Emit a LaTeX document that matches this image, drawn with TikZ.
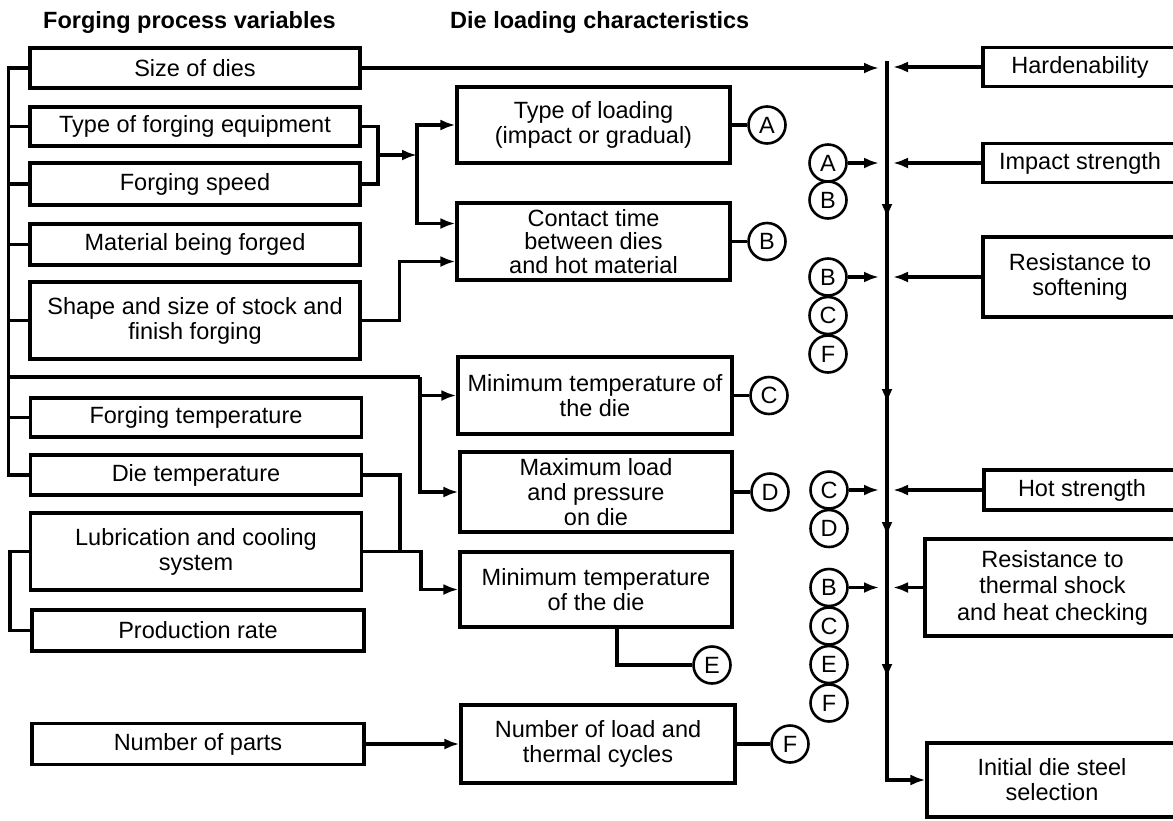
\documentclass[tikz,border=0pt]{standalone}
\usepackage{fontspec}
\setmainfont{Liberation Sans}
\usetikzlibrary{arrows.meta}

\begin{document}
\begin{tikzpicture}[x=1pt,y=-1pt,
  txt/.style={font=\fontsize{23.5}{25}\selectfont},
  box/.style={draw, line width=3.1pt, align=center, inner sep=0pt, txt},
  circ/.style={draw, circle, line width=2.6pt, minimum size=37pt, inner sep=0pt, fill=white, txt},
  ln/.style={line width=3.1pt},
  arr/.style={-{Latex[length=15pt,width=11pt]}},
  hd/.style={font=\fontsize{23.5}{25}\selectfont\bfseries, inner sep=0pt, anchor=base west}
]
\useasboundingbox (0,0) rectangle (1173,820);

% column headings
\node[hd] (h1) at (43,28) {Forging process variables};
\node[hd] (h2) at (450,28) {Die loading characteristics};

% forging process variables
\node[box, minimum width=330pt, minimum height=40pt] (L1) at (195,68) {Size of dies};
\node[box, minimum width=330pt, minimum height=39pt] (L2) at (195,126.5) {Type of forging equipment};
\node[box, minimum width=330pt, minimum height=42pt] (L3) at (195,184) {Forging speed};
\node[box, minimum width=330pt, minimum height=41pt] (L4) at (195,244.5) {Material being forged};
\node[box, minimum width=330pt, minimum height=77pt] (L5) at (195,320.5) {Shape and size of stock and\\finish forging};
\node[box, minimum width=331pt, minimum height=39pt] (L6) at (196,417.5) {Forging temperature};
\node[box, minimum width=331pt, minimum height=40pt] (L7) at (196,475) {Die temperature};
\node[box, minimum width=331pt, minimum height=77pt] (L8) at (196,551.5) {Lubrication and cooling\\system};
\node[box, minimum width=332pt, minimum height=41pt] (L9) at (198,630.5) {Production rate};
\node[box, minimum width=332pt, minimum height=41pt] (L10) at (198,744) {Number of parts};

% die loading characteristics
\node[box, minimum width=273pt, minimum height=76pt] (M1) at (593.5,125) {Type of loading\\(impact or gradual)};
\node[box, minimum width=273pt, minimum height=77pt, font=\fontsize{23.5}{23.5}\selectfont] (M2) at (593.5,241.5) {Contact time\\between dies\\and hot material};
\node[box, minimum width=274pt, minimum height=77pt] (M3) at (595,395.5) {Minimum temperature of\\the die};
\node[box, minimum width=272pt, minimum height=80pt] (M4) at (596,492) {Maximum load\\and pressure\\on die};
\node[box, minimum width=272pt, minimum height=75pt] (M5) at (596,589.5) {Minimum temperature\\of the die};
\node[box, minimum width=274pt, minimum height=78pt] (M6) at (598,744) {Number of load and\\thermal cycles};

% letter tags of the characteristics
\node[circ] (A1) at (767,125) {A};
\node[circ] (B1) at (767,241.5) {B};
\node[circ] (C1) at (769,395.5) {C};
\node[circ] (D1) at (770,492) {D};
\node[circ] (E1) at (712,665) {E};
\node[circ] (F1) at (790,744) {F};

% die steel properties
\node[box, minimum width=194pt, minimum height=39pt] (R1) at (1080,67) {Hardenability};
\node[box, minimum width=194pt, minimum height=39pt] (R2) at (1080,163) {Impact strength};
\node[box, minimum width=194pt, minimum height=80pt] (R3) at (1080,277) {Resistance to\\softening};
\node[box, minimum width=196pt, minimum height=40pt] (R4) at (1082,490) {Hot strength};
\node[box, minimum width=255pt, minimum height=97pt, font=\fontsize{23.5}{26.5}\selectfont] (R5) at (1052.5,587.5) {Resistance to\\thermal shock\\and heat checking};
\node[box, minimum width=250pt, minimum height=74pt] (R6) at (1052,780) {Initial die steel\\selection};

% tags feeding each property
\node[circ] (rA1) at (828,163) {A};
\node[circ] (rB1) at (828,200) {B};
\node[circ] (rB2) at (828,277) {B};
\node[circ] (rC2) at (828,315.5) {C};
\node[circ] (rF2) at (828,354) {F};
\node[circ] (rC3) at (829,490) {C};
\node[circ] (rD3) at (829,528.5) {D};
\node[circ] (rB4) at (829,587.5) {B};
\node[circ] (rC4) at (829,626) {C};
\node[circ] (rE4) at (829,664.5) {E};
\node[circ] (rF4) at (829,703) {F};

% main vertical collector, one continuous line with arrowheads laid on it
\coordinate (bus) at (887,0);
\coordinate (bt) at (887,61);
\draw[ln,arr] (bt) |- (R6.west);
\foreach \y in {219,404,537,679}
  \draw[ln,arr] (887,\y-16) -- (887,\y);

% inputs to the collector
\draw[ln,arr,shorten >=8pt] (L1.east) -- (L1.east -| bus);
\draw[ln,arr,shorten >=6pt] (R1.west) -- (R1.west -| bus);
\draw[ln,arr,shorten >=8pt] (rA1.east) -- (rA1.east -| bus);
\draw[ln,arr,shorten >=6pt] (R2.west) -- (R2.west -| bus);
\draw[ln,arr,shorten >=8pt] (rB2.east) -- (rB2.east -| bus);
\draw[ln,arr,shorten >=6pt] (R3.west) -- (R3.west -| bus);
\draw[ln,arr,shorten >=8pt] (rC3.east) -- (rC3.east -| bus);
\draw[ln,arr,shorten >=6pt] (R4.west) -- (R4.west -| bus);
\draw[ln,arr,shorten >=8pt] (rB4.east) -- (rB4.east -| bus);
\draw[ln,arr,shorten >=6pt] (R5.west) -- (R5.west -| bus);

% left-hand bracket joining the process variables
\draw[ln] (L1.west) -- ++(-20,0) coordinate (lb) |- (L7.west);
\foreach \n in {L2,L3,L4,L5,L6}
  \draw[ln] (\n.west) -- (\n.west -| lb);
\draw[ln] (L8.west) -- ++(-19,0) |- (L9.west);

% equipment and speed -> loading type and contact time
\coordinate (j1) at (378,155);
\coordinate (s1) at (417,155);
\draw[ln] (L2.east) -| (j1) |- (L3.east);
\draw[ln,arr] (j1) -- (s1);
\draw[ln,arr] (s1) |- (M1.west);
\draw[ln,arr] (s1) |- ([yshift=18pt]M2.west);
\draw[ln,arr] (L5.east) -- ++(38,0) |- ([yshift=-20pt]M2.west);

% branch from the bracket -> die temperature and maximum load
\coordinate (v2) at (420,377);
\draw[ln] (lb |- v2) -- (v2);
\draw[ln,arr] (v2) |- (M4.west);
\draw[ln,arr] (v2 |- M3.west) -- (M3.west);

% die temperature, lubrication -> minimum temperature of the die
\coordinate (v3) at (421,551.5);
\draw[ln,arr] (L8.east) -- (v3) |- (M5.west);
\draw[ln] (L7.east) -| (400,551.5);
\draw[ln] (M5.south -| 617,0) |- (E1.west);

% number of parts -> cycles
\draw[ln,arr] (L10.east) -- (M6.west);

% characteristics -> their tags
\draw[ln] (M1.east) -- (A1.west);
\draw[ln] (M2.east) -- (B1.west);
\draw[ln] (M3.east) -- (C1.west);
\draw[ln] (M4.east) -- (D1.west);
\draw[ln] (M6.east) -- (F1.west);
\end{tikzpicture}
\end{document}
